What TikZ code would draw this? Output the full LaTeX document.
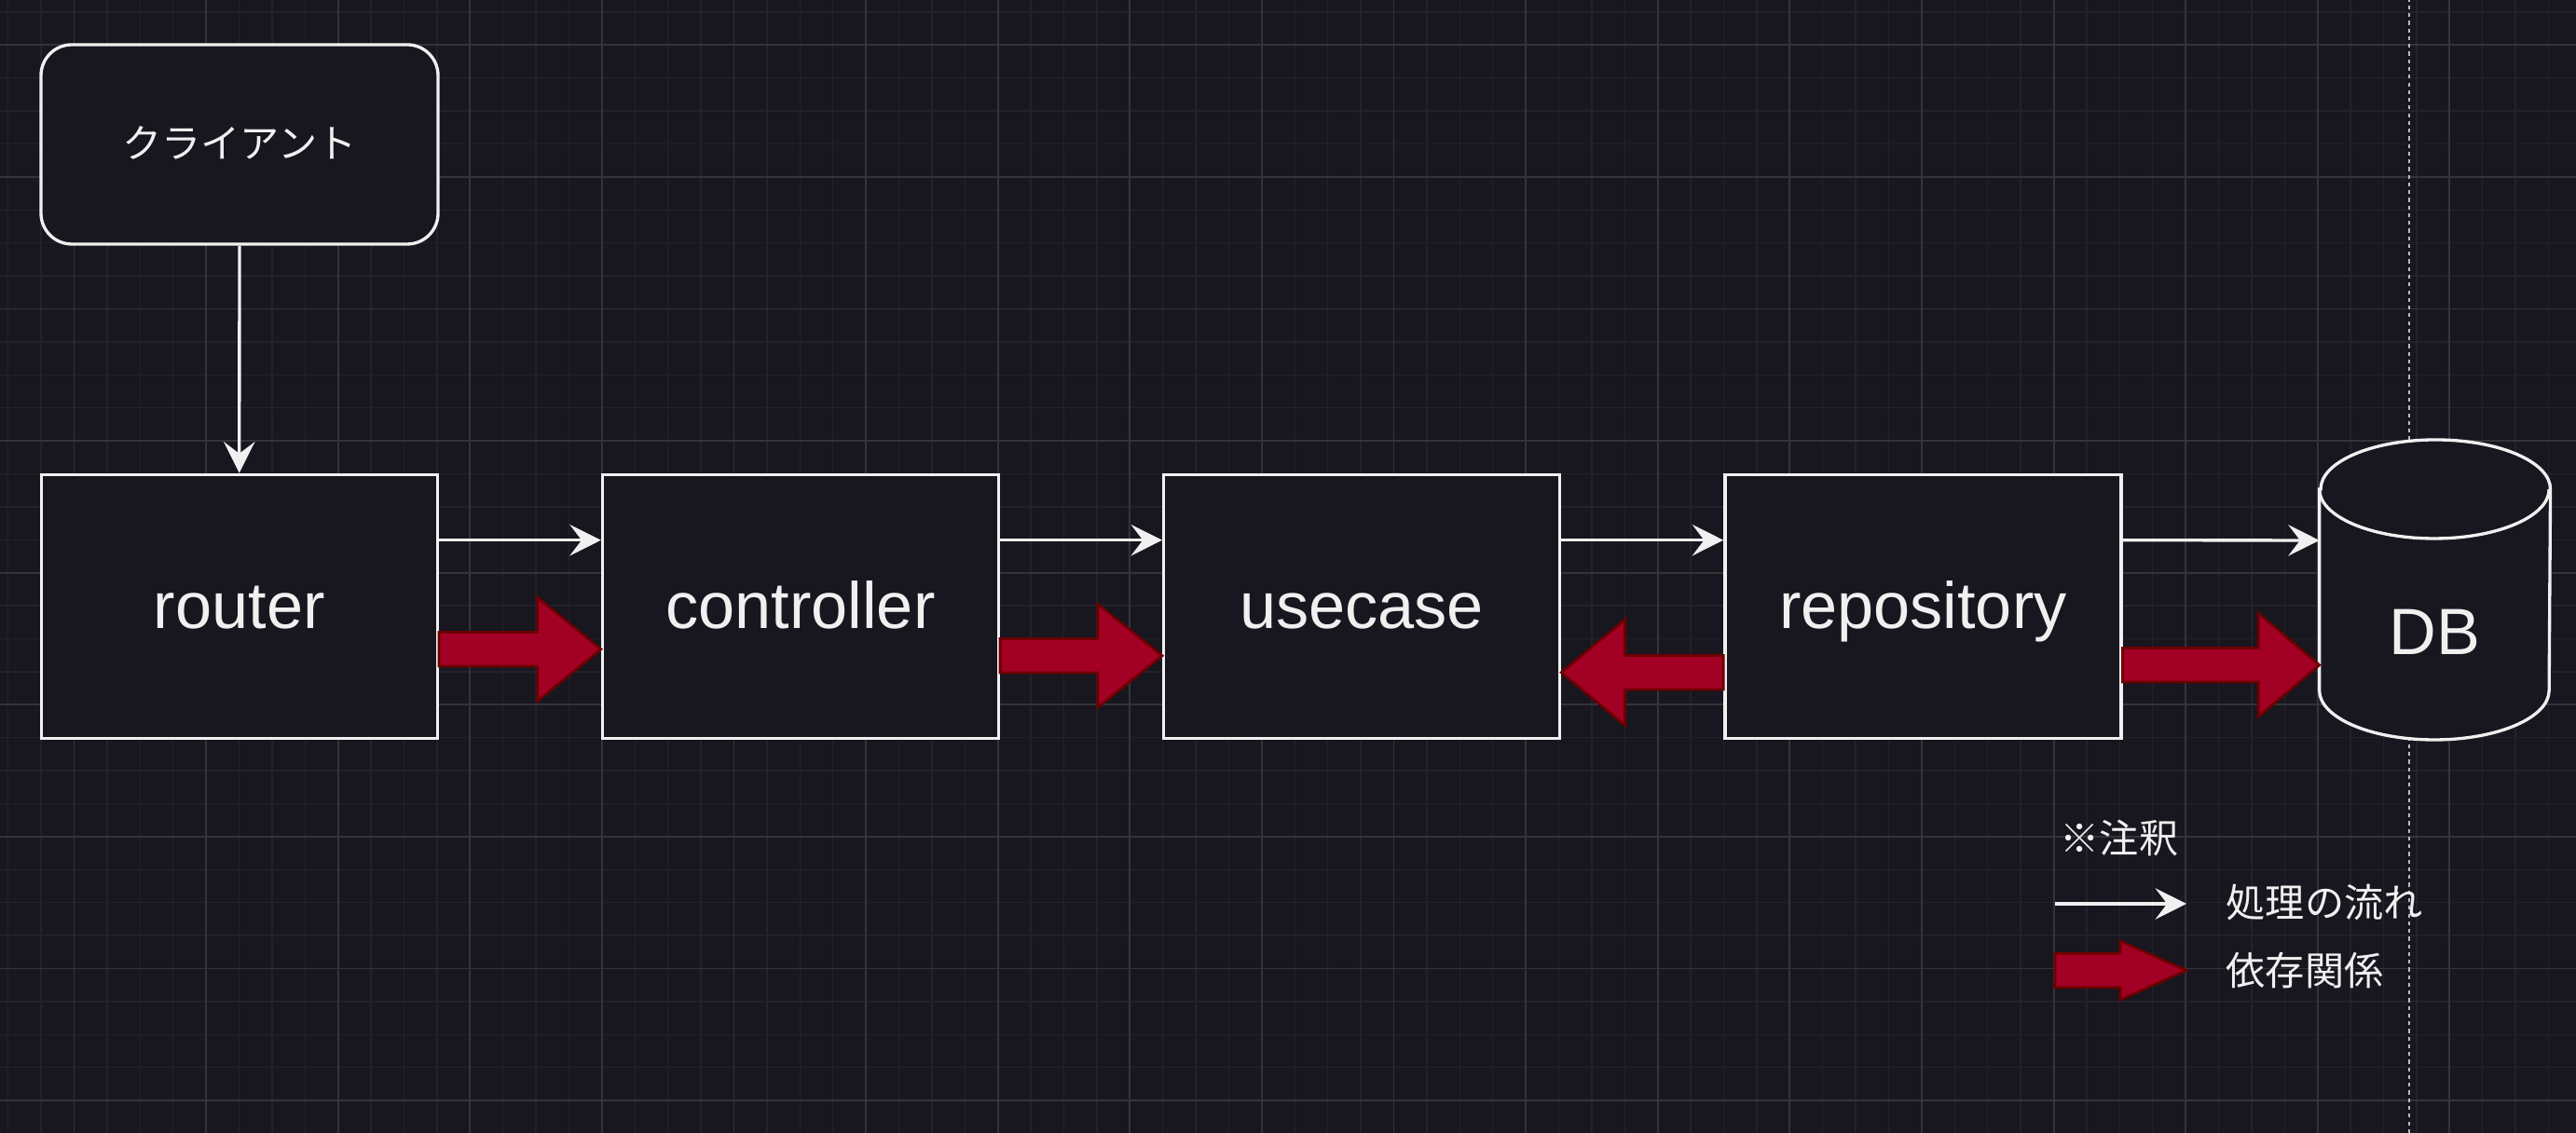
\documentclass[tikz,border=0pt]{standalone}
\usepackage{fontspec}
\setmainfont{Liberation Sans}
\newfontfamily\jafont{Noto Sans CJK JP}
\usepackage{tikz}
\usetikzlibrary{calc,arrows.meta}
\definecolor{cabg}{RGB}{24,22,31}
\definecolor{cagridminor}{RGB}{35,33,41}
\definecolor{cagridmajor}{RGB}{52,51,58}
\definecolor{caline}{RGB}{240,240,240}
\definecolor{cadepfill}{HTML}{A20025}
\definecolor{cadepline}{HTML}{6F0000}
\tikzset{
 ca grid minor/.style={cagridminor,line width=.4pt},
 ca grid major/.style={cagridmajor,line width=.55pt},
 ca page/.style={caline!75!cabg,line width=.45pt,dash pattern=on 1.2pt off 1.15pt},
 ca box line/.style={draw=caline,fill=cabg,line width=.95pt},
 ca box/.style={ca box line,minimum width=4.25cm,minimum height=2.83cm,
                inner sep=0pt,text=caline,font=\fontsize{20}{24}\selectfont,
                text height=16pt,text depth=2.4pt},
 ca client/.style={ca box,rounded corners=.33cm,minimum width=4.26cm,
                   minimum height=2.14cm,font=\jafont\fontsize{12}{14}\selectfont,
                   text height=9.6pt,text depth=1.4pt},
 ca db/.style={inner sep=0pt,minimum width=2.465cm,minimum height=3.206cm},
 ca label/.style={inner sep=0pt,text=caline,font=\fontsize{20}{24}\selectfont,
                  text height=16pt,text depth=2.4pt},
 ca note/.style={inner sep=0pt,text=caline,font=\jafont\fontsize{12}{14}\selectfont},
 ca flow/.style={draw=caline,line width=.95pt,
                 -{Stealth[length=9.5pt,width=9.5pt,inset=3.6pt]}},
 ca dep/.style={draw=cadepline,fill=cadepfill,line width=.8pt}
}
% block arrow: tail, node the tip lies on, head length (signed), head half-width
\newcommand{\deparrow}[4]{%
  \path (#2 |- #1) coordinate (deptip);
  \draw[ca dep] ($(#1)+(0,.183)$) -- ($(deptip)+({-1*(#3)},.183)$)
    -- ($(deptip)+({-1*(#3)},#4)$) -- (deptip)
    -- ($(deptip)+({-1*(#3)},-#4)$) -- ($(deptip)+({-1*(#3)},-.183)$)
    -- ($(#1)+(0,-.183)$) -- cycle;}

\begin{document}
\begin{tikzpicture}
 \useasboundingbox (0,0) rectangle (27.64,12.16);
 \fill[cabg] (0,0) rectangle (27.64,12.16);
 % grid
 \foreach \i in {0,...,77}{\draw[ca grid minor] ({.087+.354*\i},0) -- ++(0,12.16);}
 \foreach \j in {0,...,33}{\draw[ca grid minor] (0,{12.031-.354*\j}) -- ++(27.64,0);}
 \foreach \i in {2,6,...,74}{\draw[ca grid major] ({.087+.354*\i},0) -- ++(0,12.16);}
 \foreach \j in {1,5,...,33}{\draw[ca grid major] (0,{12.031-.354*\j}) -- ++(27.64,0);}
 \draw[ca page] (25.847,0) -- (25.847,12.16);

 \node[ca client] (client) at (2.57,10.61) {クライアント};
 \foreach \n/\x in {router/2.5675,controller/8.5895,usecase/14.6115,repository/20.6335}
   \node[ca box] (\n) at (\x,5.6525) {\n};
 \node[ca db] (db) at (26.126,5.83) {};
 \draw[ca box line] ($(db.north west)+(0,-.53)$) -- ($(db.south west)+(0,.53)$)
   arc[start angle=180,end angle=360,x radius=1.2325cm,y radius=.53cm]
   -- ($(db.north east)+(0,-.53)$)
   arc[start angle=0,end angle=180,x radius=1.2325cm,y radius=.53cm] -- cycle;
 \draw[ca box line,fill=none] ($(db.north west)+(0,-.53)$)
   arc[start angle=180,end angle=360,x radius=1.2325cm,y radius=.53cm];
 \node[ca label] (dblabel) at ([yshift=-4.6mm]db.center) {DB};

 \draw[ca flow] (client.south) -- (router.north);
 \foreach \a/\b in {router/controller,controller/usecase,usecase/repository}
   \draw[ca flow] ([yshift=7.1mm]\a.east) -- ([yshift=7.1mm]\b.west);
 \draw[ca flow] ([yshift=7.1mm]repository.east) -- ([yshift=5.3mm]db.west);

 \coordinate (dep1) at ([yshift=-4.6mm]router.east);
 \coordinate (dep2) at ([yshift=-5.3mm]controller.east);
 \coordinate (dep3) at ([yshift=-7.1mm]repository.west);
 \coordinate (dep4) at ([yshift=-6.3mm]repository.east);
 \deparrow{dep1}{controller.west}{.68}{.555}
 \deparrow{dep2}{usecase.west}{.69}{.552}
 \deparrow{dep3}{usecase.east}{-.683}{.567}
 \deparrow{dep4}{db.west}{.655}{.555}

 % legend
 \node[ca note] (notetitle) at (22.74,3.17) {※注釈};
 \coordinate (flowkey) at (22.05,2.46);
 \coordinate (flowkeytip) at (23.46,2.46);
 \draw[ca flow] (flowkey) -- (flowkeytip);
 \node[ca note,anchor=west] (flowtext) at (23.88,2.47) {処理の流れ};
 \coordinate (depkey) at (22.05,1.745);
 \coordinate (depkeytip) at (23.46,1.745);
 \deparrow{depkey}{depkeytip}{.71}{.315}
 \node[ca note,anchor=west] (deptext) at (23.88,1.745) {依存関係};
\end{tikzpicture}
\end{document}
